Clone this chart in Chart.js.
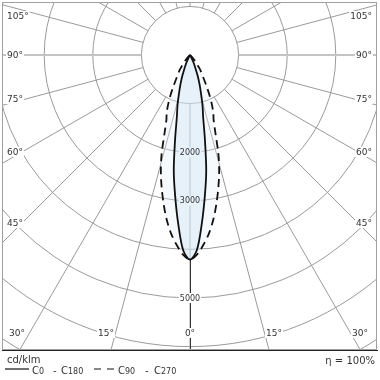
<!DOCTYPE html>
<html><head><meta charset="utf-8">
<script src="https://cdn.jsdelivr.net/npm/chart.js@4/dist/chart.umd.min.js"></script>
<style>html,body{margin:0;padding:0;background:#fff}#wrap{width:380px;height:380px;position:relative}canvas{display:block}</style>
</head><body><div id="wrap"><canvas id="c" width="380" height="380"></canvas></div>
<script>
// ---- data (cd/klm versus gamma angle in degrees) ----
const angles   = [0, 2, 4, 6, 8, 10, 12, 14, 16, 18, 20, 22, 24, 26, 28, 30, 35, 40, 45, 50, 60];
const c0c180   = [4210, 4020, 3480, 2920, 2400, 1770, 1300, 1060, 820, 640, 480, 320, 210, 130, 70, 30, 5, 0, 0, 0, 0];
const c90c270  = [4210, 4110, 3920, 3700, 3430, 3120, 2800, 2480, 2120, 1700, 1420, 1280, 1100, 910, 720, 570, 350, 150, 60, 15, 0];
const ringValues  = [1000, 2000, 3000, 4000, 5000, 6000, 7000];
const ringLabels  = ['2000', '3000', '5000'];
const radialAngles = [0, 15, 30, 45, 60, 75, 90, 105, 120, 135, 150, 165, 180, 195, 210, 225, 240, 255, 270, 285, 300, 315, 330, 345];
const angleLabels = ['105°', '90°', '75°', '60°', '45°', '30°', '15°', '0°', '15°', '30°', '45°', '60°', '75°', '90°', '105°'];
const seriesNames = ['C0 - C180', 'C90 - C270'];
const unitLabel = 'cd/klm';
const etaLabel = 'η = 100%';

// ---- layout (pixels) ----
const FRAME = {left: 2, top: 2, right: 377, bottom: 350};
const CENTER = {x: 190, y: 55};
const PX_PER_UNIT = 0.0486;
// label anchor positions (centre of text) in the same order as angleLabels
const angleLabelPos = [[16,16,'left'],[16,55,'left'],[16,99,'left'],[16,152,'left'],[16,223,'left'],
  [17,333,'center'],[106,333,'center'],[190,333,'center'],[274,333,'center'],[360,333,'center'],
  [372,223,'right'],[372,152,'right'],[372,99,'right'],[372,55,'right'],[372,16,'right']];

function polarPoints(vals){
  let last = vals.length - 1;
  for (let i = 0; i < vals.length; i++) { if (vals[i] === 0) { last = i; break; } }
  const pts = [];
  for (let i = last; i >= 0; i--) {
    const a = angles[i] * Math.PI / 180;
    pts.push({x: -vals[i] * Math.sin(a), y: -vals[i] * Math.cos(a)});
  }
  for (let i = 1; i <= last; i++) {
    const a = angles[i] * Math.PI / 180;
    pts.push({x: vals[i] * Math.sin(a), y: -vals[i] * Math.cos(a)});
  }
  return pts;
}

const FONT = '"DejaVu Sans", sans-serif';
const TEXT = '#333';

function labelBox(ctx, text, x, y, align, font){
  ctx.font = font;
  const w = ctx.measureText(text).width;
  let lx = x - w / 2;
  if (align === 'left') lx = FRAME.left + 5;
  if (align === 'right') lx = FRAME.right - 5 - w;
  ctx.fillStyle = '#fff';
  ctx.fillRect(lx - 1, y - 5, w + 2, 10);
  ctx.fillStyle = TEXT;
  ctx.textAlign = 'left';
  ctx.textBaseline = 'middle';
  ctx.fillText(text, lx, y + 0.5);
}

function ringLabelGeom(chart){
  const xs = chart.scales.x, ys = chart.scales.y;
  const cx = xs.getPixelForValue(0);
  return ringLabels.map(s => ({s, x: cx, y: ys.getPixelForValue(-Number(s))}));
}

const gridPlugin = {
  id: 'polarGrid',
  beforeDatasetsDraw(chart){
    const ctx = chart.ctx, xs = chart.scales.x, ys = chart.scales.y, ca = chart.chartArea;
    const cx = xs.getPixelForValue(0), cy = ys.getPixelForValue(0);
    const k = xs.getPixelForValue(1) - cx;
    ctx.save();
    ctx.beginPath(); ctx.rect(ca.left, ca.top, ca.right - ca.left, ca.bottom - ca.top); ctx.clip();
    ctx.strokeStyle = '#9a9a9a'; ctx.lineWidth = 1;
    for (const v of ringValues) {
      ctx.beginPath(); ctx.arc(cx, cy, v * k, 0, Math.PI * 2); ctx.stroke();
    }
    const r0 = ringValues[0] * k, r1 = 800;
    for (const a of radialAngles) {
      const t = a * Math.PI / 180, dx = Math.sin(t), dy = Math.cos(t);
      ctx.beginPath();
      if (a === 90 || a === 270) { ctx.strokeStyle = '#c4c4c4'; ctx.lineWidth = 2; }
      else { ctx.strokeStyle = '#9a9a9a'; ctx.lineWidth = 1; }
      ctx.moveTo(cx + dx * r0, cy + dy * r0); ctx.lineTo(cx + dx * r1, cy + dy * r1); ctx.stroke();
    }
    // dark part of the 0° axis below the beam
    const rMax = Math.max(...c0c180) * k;
    ctx.strokeStyle = '#333'; ctx.lineWidth = 1;
    ctx.beginPath(); ctx.moveTo(Math.round(cx) + 0.5, cy + rMax); ctx.lineTo(Math.round(cx) + 0.5, ca.bottom); ctx.stroke();
    // blank boxes behind ring labels (text drawn after the datasets)
    ctx.font = '8px ' + FONT;
    for (const g of ringLabelGeom(chart)) {
      const w = ctx.measureText(g.s).width;
      ctx.fillStyle = '#fff';
      ctx.fillRect(g.x - w / 2 - 1, g.y - 5, w + 2, 10);
    }
    // angle labels
    angleLabels.forEach((s, i) => {
      const p = angleLabelPos[i];
      labelBox(ctx, s, p[0], p[1], p[2], '9px ' + FONT);
    });
    ctx.restore();
  },
  afterDatasetsDraw(chart){
    const ctx = chart.ctx;
    ctx.save();
    ctx.font = '8px ' + FONT;
    ctx.fillStyle = TEXT; ctx.textAlign = 'center'; ctx.textBaseline = 'middle';
    for (const g of ringLabelGeom(chart)) ctx.fillText(g.s, g.x, g.y + 0.5);
    ctx.restore();
  },
  afterDraw(chart){
    const ctx = chart.ctx, ca = chart.chartArea;
    ctx.save();
    ctx.strokeStyle = '#a0a0a0'; ctx.lineWidth = 1;
    ctx.strokeRect(ca.left + 0.5, ca.top + 0.5, ca.right - ca.left - 1, ca.bottom - ca.top - 1);
    ctx.strokeStyle = '#222'; ctx.lineWidth = 1.2;
    ctx.beginPath(); ctx.moveTo(ca.left, ca.bottom + 0.5); ctx.lineTo(ca.right + 1, ca.bottom + 0.5); ctx.stroke();
    // legend
    ctx.fillStyle = TEXT; ctx.textBaseline = 'alphabetic'; ctx.textAlign = 'left';
    ctx.font = '10px ' + FONT;
    ctx.fillText(unitLabel, 7, 363);
    ctx.textAlign = 'right';
    ctx.fillText(etaLabel, 375, 364);
    ctx.textAlign = 'left';
    ctx.strokeStyle = '#111'; ctx.lineWidth = 1.2;
    ctx.beginPath(); ctx.moveTo(5, 369); ctx.lineTo(29, 369); ctx.stroke();
    ctx.setLineDash([7, 6]);
    ctx.beginPath(); ctx.moveTo(94, 369); ctx.lineTo(114, 369); ctx.stroke();
    ctx.setLineDash([]);
    function cText(str, x){
      for (const ch of str) {
        ctx.font = (/[0-9]/.test(ch) ? '8px ' : '10px ') + FONT;
        ctx.fillText(ch, x, 374);
        x += ctx.measureText(ch).width;
      }
      return x;
    }
    const parts0 = seriesNames[0].split(' - ');
    cText(parts0[0], 32); cText('-', 53); cText(parts0[1], 61);
    const parts1 = seriesNames[1].split(' - ');
    cText(parts1[0], 118); cText('-', 145); cText(parts1[1], 154);
    ctx.restore();
  }
};

const xMin = -(CENTER.x - FRAME.left) / PX_PER_UNIT, xMax = (FRAME.right - CENTER.x) / PX_PER_UNIT;
const yMax = (CENTER.y - FRAME.top) / PX_PER_UNIT, yMin = -(FRAME.bottom - CENTER.y) / PX_PER_UNIT;

new Chart(document.getElementById('c'), {
  type: 'scatter',
  data: {
    datasets: [
      {label: seriesNames[0], data: polarPoints(c0c180), showLine: true, borderColor: '#111', borderWidth: 1.8,
       backgroundColor: 'rgba(205,225,245,0.38)', fill: 'shape', pointRadius: 0, tension: 0.3, order: 0},
      {label: seriesNames[1], data: polarPoints(c90c270), showLine: true, borderColor: '#111', borderWidth: 1.8,
       borderDash: [8, 5], backgroundColor: 'rgba(230,240,250,0.3)', fill: 'shape', pointRadius: 0, tension: 0.3, order: 1}
    ]
  },
  options: {
    responsive: false, animation: false, devicePixelRatio: 1,
    layout: {padding: {left: FRAME.left, top: FRAME.top, right: 380 - FRAME.right, bottom: 380 - FRAME.bottom}},
    plugins: {legend: {display: false}, tooltip: {enabled: false}},
    scales: {
      x: {type: 'linear', display: false, min: xMin, max: xMax},
      y: {type: 'linear', display: false, min: yMin, max: yMax}
    }
  },
  plugins: [gridPlugin]
});
</script></body></html>
